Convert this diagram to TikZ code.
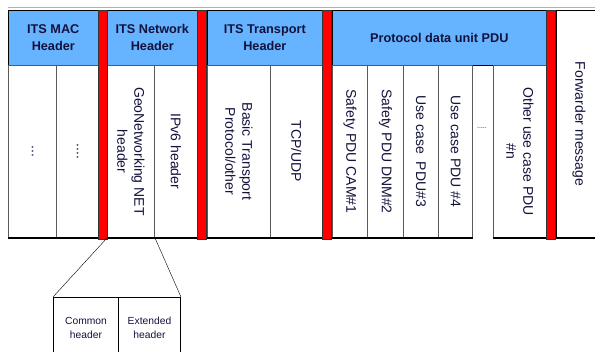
\documentclass[tikz,border=0pt]{standalone}
\usepackage{fontspec}
\setmainfont{Liberation Sans}
\usetikzlibrary{positioning}
\definecolor{headblue}{RGB}{102,179,255}
\definecolor{textnavy}{RGB}{18,18,60}
\definecolor{barred}{RGB}{255,0,0}

\begin{document}
\begin{tikzpicture}[x=1pt, y=-1pt, semithick,
            head/.style ={rectangle, draw=black, fill=headblue, text=textnavy, inner sep=0pt, anchor=north west,
            minimum height=55pt, align=center, font=\bfseries\fontsize{12.7}{17}\selectfont},
            cell/.style ={rectangle, draw=black!65, line width=1pt, fill=white, inner sep=0pt, anchor=north west,
            minimum height=172pt},
            bar/.style ={rectangle, draw=black!80, fill=barred, inner sep=0pt, anchor=north west,
            minimum width=9pt, minimum height=229pt},
            vtext/.style ={rotate=-90, text=textnavy, align=center, font=\fontsize{14}{17}\selectfont},
            subbox/.style ={rectangle, draw=black, line width=1pt, inner sep=0pt, anchor=north west,
            minimum height=60pt, text=textnavy, align=center, font=\fontsize{10.3}{14}\selectfont},
            frame/.style ={black, line width=2pt}]

        \useasboundingbox (0,0) rectangle (595,352);

        %linea gris de arriba
        \coordinate (topleft) at (8,8);
        \coordinate (topright) at (595,8);
        \draw[black!30, line width=1pt] (topleft) -- (topright);

        %cabeceras
        \node[head, minimum width=90pt] (mac) at (8,10) {ITS MAC\\Header};
        \node[head, minimum width=90pt] (net) at (107,10) {ITS Network\\Header};
        \node[head, minimum width=115pt] (trans) at (207,10) {ITS Transport\\Header};
        \node[head, minimum width=214pt] (pdu) at (332,10) {Protocol data unit PDU};

        %celdas
        \node[cell, minimum width=48pt] (mac1) at (8,65) {};
        \node[cell, minimum width=42pt] (mac2) at (56,65) {};
        \node[cell, minimum width=47pt] (geo) at (107,65) {};
        \node[cell, minimum width=43pt] (ipv6) at (154,65) {};
        \node[cell, minimum width=63pt] (basic) at (207,65) {};
        \node[cell, minimum width=52pt] (tcp) at (270,65) {};
        \node[cell, minimum width=35pt] (cam) at (332,65) {};
        \node[cell, minimum width=36pt] (denm) at (367,65) {};
        \node[cell, minimum width=35pt] (uc3) at (403,65) {};
        \node[cell, minimum width=34pt] (uc4) at (438,65) {};
        \node[cell, minimum width=53pt] (other) at (493,65) {};
        \node[cell, draw=black, minimum width=45pt, minimum height=227pt] (fwd) at (556,10) {};

        %textos verticales
        \node[vtext] (mac1t) at (mac1.center) {...};
        \node[vtext] (mac2t) at (mac2.center) {....};
        \node[vtext] (geot) at (geo.center) {GeoNetworking NET\\header};
        \node[vtext] (ipv6t) at (ipv6.center) {IPv6 header};
        \node[vtext] (basict) at (basic.center) {Basic Transport\\Protocol/other};
        \node[vtext] (tcpt) at (tcp.center) {TCP/UDP};
        \node[vtext] (camt) at (cam.center) {Safety PDU CAM\#1};
        \node[vtext] (denmt) at (denm.center) {Safety PDU DNM\#2};
        \node[vtext] (uc3t) at (uc3.center) {Use case~~PDU\#3};
        \node[vtext] (uc4t) at (uc4.center) {Use case PDU \#4};
        \node[text=textnavy, font=\scriptsize] (gap) at (482,128) {.....};
        \node[vtext] (othert) at (other.center) {Other use case PDU\\\#n};
        \node[vtext] (fwdt) at (fwd.center) {Forwarder message};

        %borde de abajo
        \draw[frame] (mac1.south west) -- (uc4.south east);
        \draw[frame] (other.south west) -- (fwd.south east);

        %barras rojas
        \node[bar] (bar1) at (98,10) {};
        \node[bar] (bar2) at (197,10) {};
        \node[bar] (bar3) at (322,10) {};
        \node[bar] (bar4) at (546,10) {};

        %detalle de la cabecera GeoNetworking
        \node[subbox, minimum width=65pt] (common) at (53,297) {Common\\header};
        \node[subbox, minimum width=62pt] (extended) at (118,297) {Extended\\header};

        \draw[black, thin] (geo.south west) -- (common.north west);
        \draw[black, thin] (geo.south east) -- (extended.north east);

    \end{tikzpicture}
\end{document}
